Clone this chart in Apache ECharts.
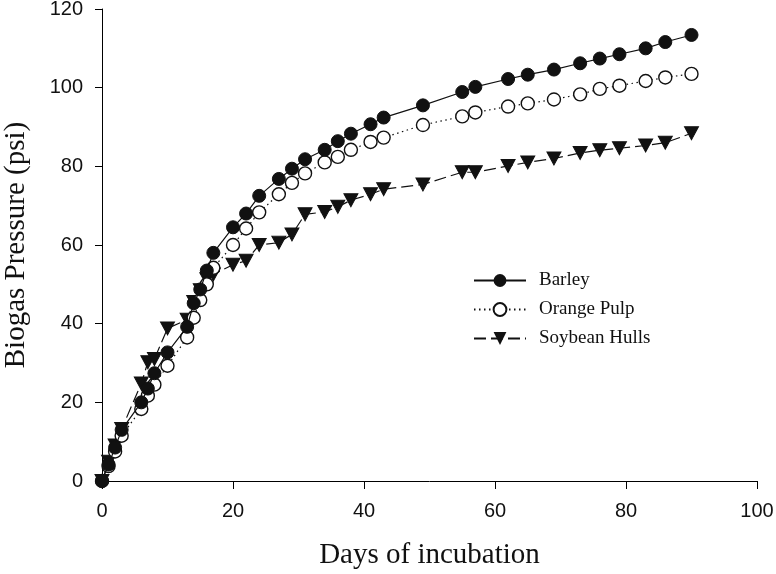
<!DOCTYPE html>
<html><head><meta charset="utf-8">
<script src="https://cdn.jsdelivr.net/npm/echarts@6/dist/echarts.min.js"></script>
<style>html,body{margin:0;padding:0;background:#fff}#c{width:776px;height:574px}</style>
</head><body><div id="c"></div>
<script>
const days = [0,1,2,3,6,7,8,10,13,14,15,16,17,20,22,24,27,29,31,34,36,38,41,43,49,55,57,62,65,69,73,76,79,83,86,90];
const barley = [0,4.2,8.5,13,20,23.5,27.4,32.7,39.2,45.2,48.7,53.5,58,64.5,68,72.5,76.8,79.4,81.8,84.2,86.4,88.3,90.7,92.4,95.5,98.9,100.2,102.2,103.3,104.6,106.2,107.4,108.5,110,111.6,113.4];
const orangePulp = [0,3.8,7.5,11.5,18.3,21.7,24.5,29.3,36.5,41.5,46,50,54.2,60,64.2,68.3,72.9,75.8,78.2,81,82.4,84.2,86.2,87.3,90.5,92.7,93.7,95.2,96,97,98.3,99.7,100.5,101.7,102.6,103.5];
const soybeanHulls = [0,4.9,9,13.2,24.8,30.2,31,38.8,41,45.5,48.5,51.3,52.5,55,56,60,60.6,62.7,67.8,68.4,69.7,71.4,72.9,74.2,75.4,78.5,78.5,80.1,81,82,83.4,84.1,84.6,85.3,86,88.4];
const seriesNames = ['Barley','Orange Pulp','Soybean Hulls'];
const xTitle = 'Days of incubation';
const yTitle = 'Biogas Pressure (psi)';

const pairs = vals => days.map((d,i)=>[d, vals[i]]);
const chart = echarts.init(document.getElementById('c'), null, {renderer:'canvas'});
const axisLabel = {color:'#111', fontFamily:'Liberation Sans', fontSize:20};
const titleStyle = {fontFamily:'Liberation Serif', fontSize:29, color:'#111'};
chart.setOption({
  animation:false,
  backgroundColor:'#fff',
  grid:{left:102, right:19, top:9, bottom:93, outerBoundsMode:'none', containLabel:false},
  legend:{
    orient:'vertical', left:468, top:266,
    itemWidth:52, itemHeight:16, itemGap:10,
    textStyle:{fontFamily:'Liberation Serif', fontSize:19, color:'#111', padding:[0,0,0,8]},
    data:seriesNames
  },
  xAxis:{
    type:'value', min:0, max:100, interval:20,
    name:xTitle, nameLocation:'middle', nameGap:60,
    nameTextStyle:titleStyle,
    axisLine:{lineStyle:{color:'#000', width:1}},
    axisTick:{length:8, lineStyle:{color:'#000'}},
    axisLabel:Object.assign({margin:20}, axisLabel),
    splitLine:{show:false}
  },
  yAxis:{
    type:'value', min:0, max:120, interval:20,
    name:yTitle, nameLocation:'middle', nameGap:71,
    nameTextStyle:titleStyle,
    axisLine:{show:true, lineStyle:{color:'#000', width:1}},
    axisTick:{show:true, length:7, lineStyle:{color:'#000'}},
    axisLabel:Object.assign({margin:19}, axisLabel),
    splitLine:{show:false}
  },
  series:[
    {name:seriesNames[0], type:'line', data:pairs(barley), symbol:'circle', symbolSize:13,
     lineStyle:{color:'#111', width:1.2}, itemStyle:{color:'#111', borderColor:'#111'}, z:4},
    {name:seriesNames[1], type:'line', data:pairs(orangePulp), symbol:'circle', symbolSize:13,
     lineStyle:{color:'#111', width:1.2, type:[1.5,3.5]}, itemStyle:{color:'#fff', borderColor:'#111', borderWidth:1.4}, z:3},
    {name:seriesNames[2], type:'line', data:pairs(soybeanHulls), symbol:'triangle', symbolSize:[14,13], symbolRotate:180,
     lineStyle:{color:'#111', width:1.2, type:[12,5]}, itemStyle:{color:'#111', borderColor:'#111'}, z:2}
  ]
});
</script></body></html>
